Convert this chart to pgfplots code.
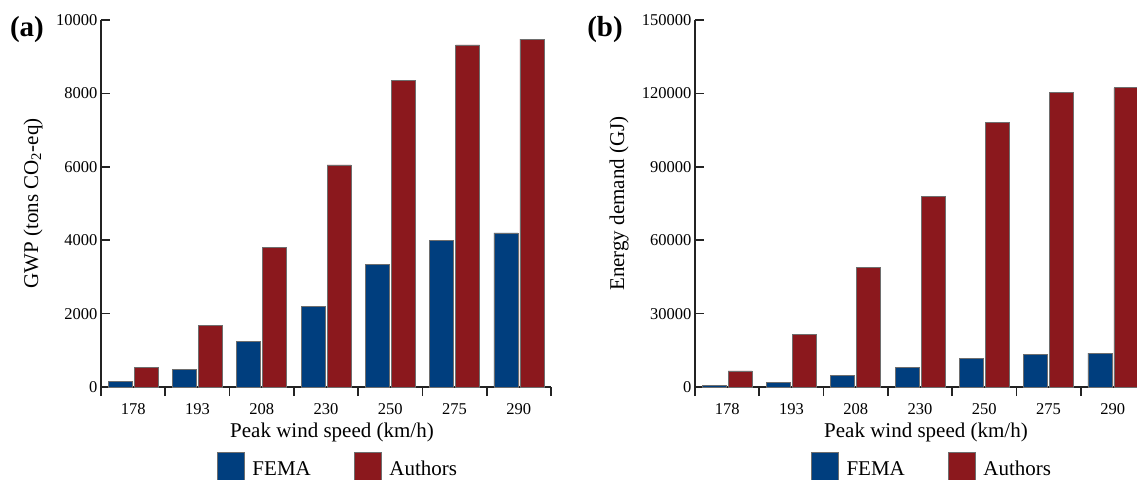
\documentclass[border=0pt]{standalone}
\usepackage{fontspec}
\setmainfont{Liberation Serif}
\usepackage{pgfplots}
\pgfplotsset{compat=1.18}
\definecolor{fema}{RGB}{0,62,126}
\definecolor{auth}{RGB}{139,24,29}
\definecolor{axc}{RGB}{35,35,35}
\definecolor{barline}{RGB}{110,110,110}
\pgfplotsset{
  panel/.style={
    scale only axis, width=450pt, height=367pt,
    xmin=-0.5, xmax=6.5, ymin=0,
    axis x line*=bottom, axis y line*=left,
    tick align=inside,
    axis line style={axc, line width=1.6pt},
    xtick={-0.5,0.5,1.5,2.5,3.5,4.5,5.5,6.5},
    x tick label as interval,
    xticklabels={178,193,208,230,250,275,290},
    major tick length=9pt,
    every tick/.style={axc, line width=1.6pt},
    tick label style={font=\fontsize{16.5}{18}\selectfont},
    xticklabel style={yshift=-4pt},
    yticklabel={\pgfmathprintnumber[assume math mode=true,1000 sep={},fixed]{\tick}},
    scaled y ticks=false,
    ybar=2pt, bar width=24pt,
    every axis x label/.style={at={(axis description cs:0.5,0)}, yshift=-45pt, xshift=6pt, anchor=center, font=\fontsize{21}{24}\selectfont},
    xlabel={Peak wind speed (km/h)},
    title style={at={(axis description cs:0,1)}, anchor=center, yshift=-16pt, font=\bfseries\fontsize{29}{32}\selectfont},
    legend columns=2,
    legend style={at={(axis description cs:0.5,0)}, anchor=north, yshift=-65pt, xshift=12pt,
      draw=none, fill=none, inner sep=0pt, outer sep=0pt,
      font=\fontsize{21}{24}\selectfont,
      /tikz/every even column/.append style={column sep=41pt}},
    legend image code/.code={\draw[##1, draw=barline, line width=0.6pt] (0pt,-12pt) rectangle (27pt,17pt);
      \path (33pt,0pt);},
  },
  femabar/.style={fill=fema, draw=barline, line width=0.6pt},
  authbar/.style={fill=auth, draw=barline, line width=0.6pt},
}
\begin{document}
\begin{tikzpicture}[x=1pt,y=1pt]
\begin{axis}[panel, at={(101pt,92pt)}, anchor=south west,
  ymax=10000, ytick={0,2000,4000,6000,8000,10000},
  every axis y label/.style={at={(axis description cs:0,0.5)}, xshift=-68pt, rotate=90, anchor=center, font=\fontsize{21}{24}\selectfont},
  ylabel={GWP (tons CO\textsubscript{2}-eq)},
  title={(a)}, title style={xshift=-74pt}]
\addplot[femabar] coordinates {(0,150) (1,490) (2,1250) (3,2200) (4,3350) (5,3990) (6,4200)};
\addplot[authbar] coordinates {(0,540) (1,1670) (2,3800) (3,6050) (4,8350) (5,9320) (6,9480)};
\legend{FEMA,Authors}
\end{axis}
\begin{axis}[panel, at={(695pt,92pt)}, anchor=south west,
  ymax=150000, ytick={0,30000,60000,90000,120000,150000},
  every axis y label/.style={at={(axis description cs:0,0.5)}, xshift=-76pt, rotate=90, anchor=center, font=\fontsize{21}{24}\selectfont},
  ylabel={Energy demand (GJ)},
  title={(b)}, title style={xshift=-90pt}]
\addplot[femabar] coordinates {(0,500) (1,1800) (2,4700) (3,8000) (4,11700) (5,13300) (6,13800)};
\addplot[authbar] coordinates {(0,6600) (1,21500) (2,49000) (3,78000) (4,108000) (5,120300) (6,122300)};
\legend{FEMA,Authors}
\end{axis}
\pgfresetboundingbox
\useasboundingbox (0pt,0pt) rectangle (1137pt,479pt);
\end{tikzpicture}
\end{document}
